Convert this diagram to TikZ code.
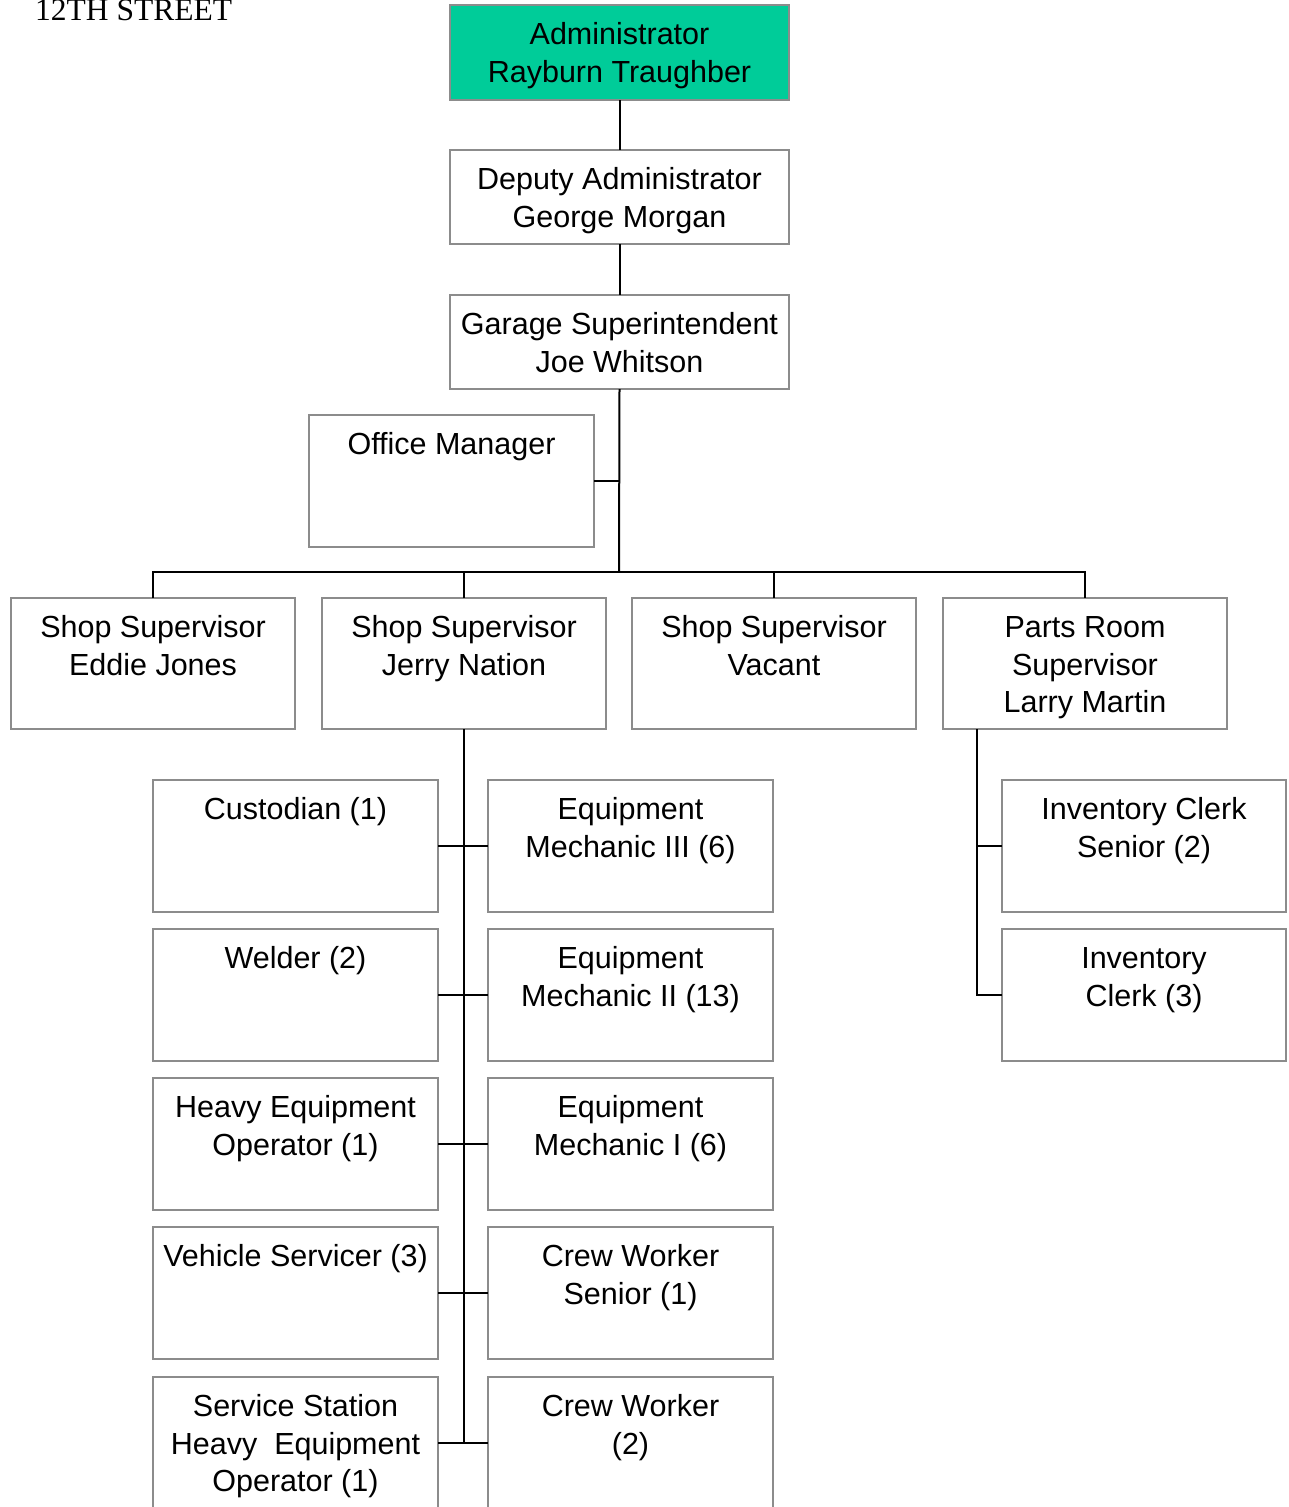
\documentclass[tikz,border=0pt]{standalone}
\usepackage{fontspec}
\setmainfont{Liberation Sans}
\newfontfamily\streetfont{Liberation Serif}
\definecolor{headfill}{HTML}{00CC99}
\definecolor{boxline}{HTML}{8C8C8C}
\tikzset{
  box/.style={draw=boxline, line width=2pt, fill=white, inner sep=0pt, outer sep=0pt},
  headbox/.style={box, fill=headfill},
  txt/.style={font=\fontsize{30.5}{37.5}\selectfont, align=center, inner sep=0pt},
  conn/.style={draw=black, line width=2pt}
}
% \orgbox{name}{x1}{y1}{x2}{y2}{style}{text}: framed box with its text set at the top
\newcommand\orgbox[7]{%
  \node[#6, anchor=north west, minimum width={#4-#2}, minimum height={#5-#3}] (#1) at (#2,#3) {};
  \node[txt, anchor=north] (#1-t) at ([yshift=-13.5pt]#1.north) {\strut #7};
}
\begin{document}
\begin{tikzpicture}[x=1pt,y=-1pt]
\useasboundingbox (0,0) rectangle (1289,1507);
\clip (0,0) rectangle (1289,1507);

\node[anchor=base west, inner sep=0pt, font=\streetfont\fontsize{31.5}{36}\selectfont] (street) at (35,20) {12TH STREET};

% top of the chain
\orgbox{adm}{450}{5}{789}{100}{headbox}{Administrator\\Rayburn Traughber}
\orgbox{dep}{450}{150}{789}{244}{box}{Deputy Administrator\\George Morgan}
\orgbox{gar}{450}{295}{789}{389}{box}{Garage Superintendent\\Joe Whitson}
\orgbox{off}{309}{415}{594}{547}{box}{Office Manager}

% supervisors
\orgbox{ss1}{11}{598}{295}{729}{box}{Shop Supervisor\\Eddie Jones}
\orgbox{ss2}{322}{598}{606}{729}{box}{Shop Supervisor\\Jerry Nation}
\orgbox{ss3}{632}{598}{916}{729}{box}{Shop Supervisor\\Vacant}
\orgbox{prs}{943}{598}{1227}{729}{box}{Parts Room\\Supervisor\\Larry Martin}

% staff under Jerry Nation
\orgbox{cus}{153}{780}{438}{912}{box}{Custodian (1)}
\orgbox{wel}{153}{929}{438}{1061}{box}{Welder (2)}
\orgbox{heo}{153}{1078}{438}{1210}{box}{Heavy Equipment\\Operator (1)}
\orgbox{vse}{153}{1227}{438}{1359}{box}{Vehicle Servicer (3)}
\orgbox{sso}{153}{1377}{438}{1509}{box}{Service Station\\Heavy~ Equipment\\Operator (1)}
\orgbox{em3}{488}{780}{773}{912}{box}{Equipment\\Mechanic III (6)}
\orgbox{em2}{488}{929}{773}{1061}{box}{Equipment\\Mechanic II (13)}
\orgbox{em1}{488}{1078}{773}{1210}{box}{Equipment\\Mechanic I (6)}
\orgbox{cws}{488}{1227}{773}{1359}{box}{Crew Worker\\Senior (1)}
\orgbox{cw}{488}{1377}{773}{1509}{box}{Crew Worker\\(2)}

% staff under the parts room
\orgbox{ics}{1002}{780}{1286}{912}{box}{Inventory Clerk\\Senior (2)}
\orgbox{ic}{1002}{929}{1286}{1061}{box}{Inventory\\Clerk (3)}

% connectors
\coordinate (bar) at (619,572);
\coordinate (ptop) at (977,729);
\draw[conn] (adm.south) -- (dep.north);
\draw[conn] (dep.south) -- (gar.north);
\draw[conn] (gar.south) -- (bar);
\draw[conn] (off.east) -- (off.east -| gar.south);
\draw[conn] (ss1.north) -- (ss1.north |- bar) -- (prs.north |- bar) -- (prs.north);
\draw[conn] (ss2.north) -- (ss2.north |- bar);
\draw[conn] (ss3.north) -- (ss3.north |- bar);

\draw[conn] (ss2.south) -- (ss2.south |- sso.east);
\draw[conn] (cus.east) -- (em3.west);
\draw[conn] (wel.east) -- (em2.west);
\draw[conn] (heo.east) -- (em1.west);
\draw[conn] (vse.east) -- (cws.west);
\draw[conn] (sso.east) -- (cw.west);

\draw[conn] (ptop) -- (ptop |- ic.west) -- (ic.west);
\draw[conn] (ptop |- ics.west) -- (ics.west);
\end{tikzpicture}
\end{document}
